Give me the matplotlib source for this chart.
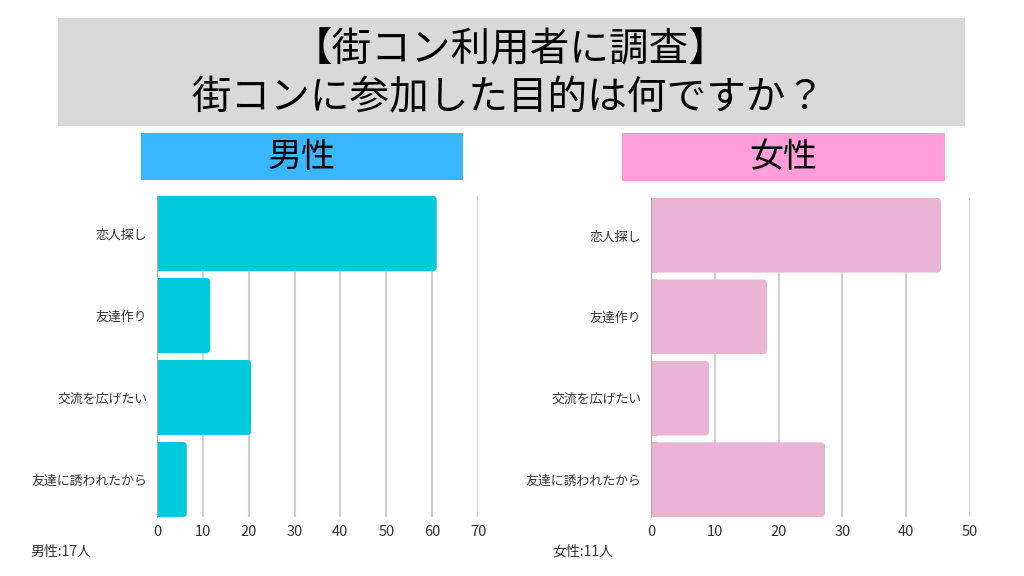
import matplotlib
matplotlib.use('Agg')
import matplotlib.pyplot as plt
from matplotlib.patches import Rectangle, FancyBboxPatch

plt.rcParams['font.family'] = ['Noto Sans CJK JP', 'DejaVu Sans']

# データ (割合 %)
categories = ['恋人探し', '友達作り', '交流を広げたい', '友達に誘われたから']
male_values = [61.0, 11.6, 20.5, 6.5]
female_values = [45.45, 18.18, 9.09, 27.27]
male_ticks = [0, 10, 20, 30, 40, 50, 60, 70]
female_ticks = [0, 10, 20, 30, 40, 50]

W, H = 1024, 576
fig = plt.figure(figsize=(W / 100, H / 100), dpi=100)
fig.patch.set_facecolor('white')


def px_rect(x0, y0, x1, y1, color):
    # ピクセル座標 -> figure 座標
    fig.patches.append(Rectangle((x0 / W, 1 - y1 / H), (x1 - x0) / W, (y1 - y0) / H,
                                 transform=fig.transFigure, facecolor=color,
                                 edgecolor='none', zorder=0))


# タイトル枠
px_rect(58, 18, 965, 126, '#d9d9d9')
fig.text(511 / W, 1 - 50 / H, '【街コン利用者に調査】', ha='center', va='center', fontsize=28.5)
fig.text(508 / W, 1 - 98 / H, '街コンに参加した目的は何ですか？', ha='center', va='center', fontsize=28.5)

# 見出し
px_rect(141, 133, 463, 180, '#38b6ff')
fig.text(302 / W, 1 - 157 / H, '男性', ha='center', va='center', fontsize=24.5)
px_rect(622, 133, 945, 181, '#ff9ed9')
fig.text(783 / W, 1 - 157 / H, '女性', ha='center', va='center', fontsize=24.5)


def draw_panel(rect, values, ticks, color):
    ax = fig.add_axes(rect)
    h = 0.915
    n = len(categories)
    ax.set_ylim(n - 1 + h / 2, -h / 2)
    ax.set_xlim(ticks[0], ticks[-1])
    # 角丸の大きさ (px -> データ単位)
    ax_w = rect[2] * W
    ax_h = rect[3] * H
    r_px = 4
    rx = r_px * (ticks[-1] - ticks[0]) / ax_w
    ry = r_px * (n - 1 + h) / ax_h
    bars = ax.barh(range(n), values, height=h, color=color, zorder=3)
    for b in bars:
        x, y, w, hh = b.get_x(), b.get_y(), b.get_width(), b.get_height()
        ax.add_patch(FancyBboxPatch((x, y), w, hh,
                                    boxstyle=f'round,pad=0,rounding_size={rx}',
                                    mutation_aspect=ry / rx, facecolor=color,
                                    edgecolor='none', zorder=3))
        b.set_width(rx * 1.5)  # 左側の角だけ四角く
    ax.set_xticks(ticks)
    ax.set_yticks(range(n))
    ax.set_yticklabels(categories, fontsize=9.3, color='#333333')
    ax.tick_params(axis='x', labelsize=10.5, colors='#333333', length=0, pad=6)
    ax.tick_params(axis='y', length=0, pad=7)
    ax.grid(axis='x', color='#d0d0d0', linewidth=1.5, zorder=0)
    for s in ['top', 'right', 'bottom']:
        ax.spines[s].set_visible(False)
    ax.spines['left'].set_color('#aaaaaa')
    ax.spines['left'].set_zorder(4)
    return ax


draw_panel([157 / W, 1 - 517 / H, (478 - 157) / W, (517 - 196) / H],
           male_values, male_ticks, '#00c9db')
draw_panel([651 / W, 1 - 517 / H, (970 - 651) / W, (517 - 198) / H],
           female_values, female_ticks, '#eab4d5')

fig.text(30 / W, 1 - 552 / H, '男性:17人', ha='left', va='center', fontsize=10, color='#333333')
fig.text(552 / W, 1 - 552 / H, '女性:11人', ha='left', va='center', fontsize=10, color='#333333')

plt.savefig('out.png', dpi=100)
